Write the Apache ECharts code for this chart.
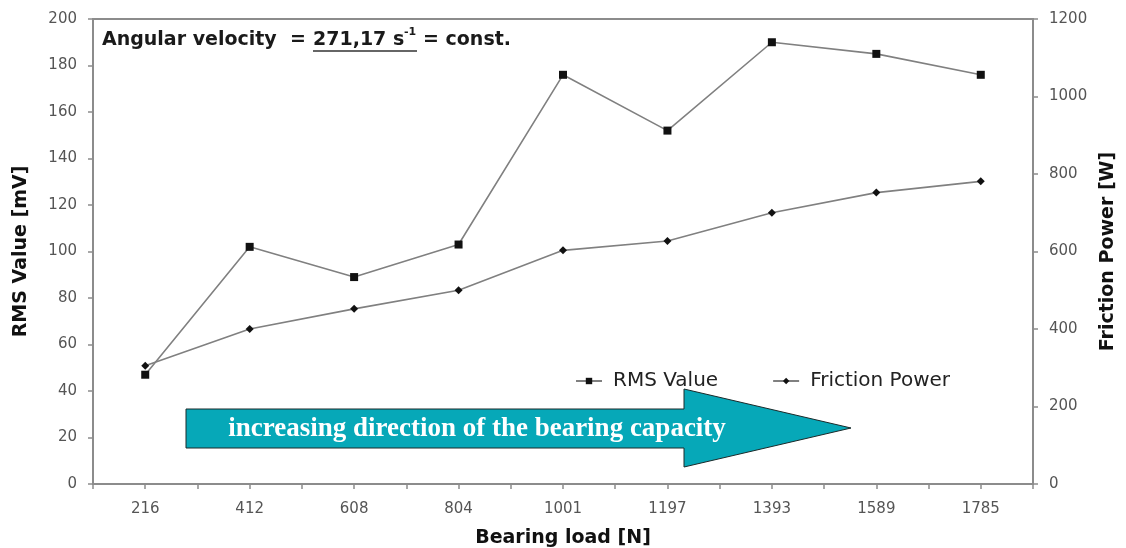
<!DOCTYPE html>
<html>
<head>
<meta charset="utf-8">
<script src="https://cdn.jsdelivr.net/npm/echarts@6/dist/echarts.min.js"></script>
<style>
html,body{margin:0;padding:0;background:#fff;}
#chart{width:1126px;height:548px;}
</style>
</head>
<body>
<div id="chart"></div>
<script>
const categories = ['216','412','608','804','1001','1197','1393','1589','1785'];
const rmsValues = [47, 102, 89, 103, 176, 152, 190, 185, 176];
const frictionPower = [305, 400, 452, 500, 603, 627, 700, 752, 781];
const leftTicks = [0, 200, 20];
const rightTicks = [0, 1200, 200];

const tickSlots = categories.flatMap(c => [c + 'a', c + 'b']);

const chart = echarts.init(document.getElementById('chart'));
const axisGray = '#8c8c8c';
const labelColor = '#555';
const font = 'DejaVu Sans';

chart.setOption({
  animation: false,
  backgroundColor: '#fff',
  grid: { left: 93, right: 93, top: 19, bottom: 64, show: true, borderColor: axisGray, borderWidth: 2, outerBoundsMode: 'none', containLabel: false },
  legend: {
    left: 570, top: 366, itemWidth: 26, itemHeight: 8, itemGap: 54,
    textStyle: { fontFamily: font, fontSize: 20, color: '#222', padding: [0, 0, 0, 6] },
    data: ['RMS Value', 'Friction Power']
  },
  xAxis: [
    {
      type: 'category', data: categories, position: 'bottom',
      name: 'Bearing load [N]', nameLocation: 'middle', nameGap: 45,
      nameTextStyle: { fontFamily: font, fontWeight: 'bold', fontSize: 19, color: '#111' },
      axisLine: { lineStyle: { color: axisGray, width: 2 } },
      axisTick: { show: false },
      axisLabel: { fontFamily: font, fontSize: 15, color: labelColor, margin: 18 }
    },
    {
      type: 'category', data: tickSlots, position: 'bottom', gridIndex: 0,
      axisLine: { show: false },
      axisTick: { show: true, length: 5, lineStyle: { color: axisGray, width: 1.5 } },
      axisLabel: { show: false }
    }
  ],
  yAxis: [
    {
      type: 'value', min: leftTicks[0], max: leftTicks[1], interval: leftTicks[2],
      name: 'RMS Value [mV]', nameLocation: 'middle', nameGap: 62, nameRotate: 90,
      nameTextStyle: { fontFamily: font, fontWeight: 'bold', fontSize: 19, color: '#111' },
      axisLine: { show: true, lineStyle: { color: axisGray, width: 2 } },
      axisTick: { show: true, length: 5, lineStyle: { color: axisGray, width: 1.5 } },
      axisLabel: { fontFamily: font, fontSize: 15, color: labelColor, margin: 16 },
      splitLine: { show: false }
    },
    {
      type: 'value', min: rightTicks[0], max: rightTicks[1], interval: rightTicks[2], position: 'right',
      name: 'Friction Power [W]', nameLocation: 'middle', nameGap: 66, nameRotate: 90,
      nameTextStyle: { fontFamily: font, fontWeight: 'bold', fontSize: 19, color: '#111' },
      axisLine: { show: true, lineStyle: { color: axisGray, width: 2 } },
      axisTick: { show: true, length: 5, lineStyle: { color: axisGray, width: 1.5 } },
      axisLabel: { fontFamily: font, fontSize: 15, color: labelColor, margin: 16, formatter: v => String(v) },
      splitLine: { show: false }
    }
  ],
  series: [
    {
      name: 'RMS Value', type: 'line', xAxisIndex: 0, yAxisIndex: 0, data: rmsValues,
      symbol: 'rect', symbolSize: 8,
      lineStyle: { color: '#808080', width: 1.6 },
      itemStyle: { color: '#111' }
    },
    {
      name: 'Friction Power', type: 'line', xAxisIndex: 0, yAxisIndex: 1, data: frictionPower,
      symbol: 'diamond', symbolSize: 8,
      lineStyle: { color: '#808080', width: 1.6 },
      itemStyle: { color: '#111' }
    }
  ],
  graphic: [
    { type: 'text', left: 102, top: 31, style: { text: 'Angular velocity  =', font: 'bold 19px "DejaVu Sans"', fill: '#1a1a1a' } },
    { type: 'text', left: 313, top: 31, style: { text: '271,17 s', font: 'bold 19px "DejaVu Sans"', fill: '#1a1a1a' } },
    { type: 'text', left: 404, top: 27, style: { text: '-1', font: 'bold 11px "DejaVu Sans"', fill: '#1a1a1a' } },
    { type: 'text', left: 423, top: 31, style: { text: '= const.', font: 'bold 19px "DejaVu Sans"', fill: '#1a1a1a' } },
    { type: 'line', shape: { x1: 313, y1: 51, x2: 417, y2: 51 }, style: { stroke: '#333', lineWidth: 1.5 } },
    {
      type: 'polygon',
      shape: { points: [[186, 409], [684, 409], [684, 389], [851, 428], [684, 467], [684, 448], [186, 448]] },
      style: { fill: '#06a8b8', stroke: '#1a2a2a', lineWidth: 1 }
    },
    { type: 'text', x: 477, y: 429, style: { text: 'increasing direction of the bearing capacity', font: 'bold 27px "Liberation Serif"', fill: '#fff', align: 'center', verticalAlign: 'middle' } }
  ]
});
</script>
</body>
</html>
